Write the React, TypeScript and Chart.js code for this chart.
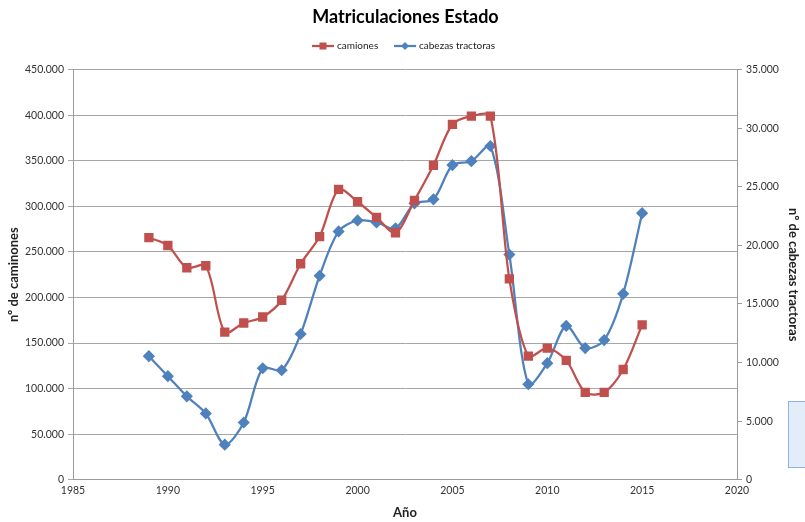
import React, { useEffect, useRef } from "react";
import { Chart, registerables } from "chart.js";

Chart.register(...registerables);

const years = [1989, 1990, 1991, 1992, 1993, 1994, 1995, 1996, 1997, 1998, 1999, 2000, 2001, 2002, 2003, 2004, 2005, 2006, 2007, 2008, 2009, 2010, 2011, 2012, 2013, 2014, 2015];
const camiones = [265700, 257000, 232600, 234800, 162000, 172000, 178600, 197000, 237000, 266800, 318600, 305000, 287800, 271000, 306500, 345000, 390000, 399000, 399000, 220500, 135600, 144400, 131000, 96000, 96000, 121000, 170000];
const cabezas = [10550, 8840, 7120, 5660, 3000, 4890, 9520, 9350, 12440, 17410, 21190, 22130, 21960, 21450, 23590, 23930, 26850, 27190, 28480, 19220, 8150, 9950, 13130, 11240, 11920, 15870, 22750];

const FONT = "Lato, 'Open Sans', sans-serif";
const RED = "#C0504D";
const BLUE = "#4F81BD";
const fmt = (v: number) => {
  const s = Math.round(v).toString();
  return s.replace(/\B(?=(\d{3})+(?!\d))/g, ".");
};

const legendPlugin = {
  id: "excelLegend",
  afterDraw(chart: any) {
    const ctx = chart.ctx;
    const y = 46;
    const items = [
      { x: 312, text: "camiones", color: RED, style: "rect" },
      { x: 394, text: "cabezas tractoras", color: BLUE, style: "rectRot" },
    ];
    ctx.save();
    ctx.font = `10px ${FONT}`;
    ctx.textBaseline = "middle";
    for (const it of items) {
      ctx.strokeStyle = it.color;
      ctx.lineWidth = 2.25;
      ctx.beginPath();
      ctx.moveTo(it.x, y);
      ctx.lineTo(it.x + 22, y);
      ctx.stroke();
      ctx.fillStyle = it.color;
      const cx = it.x + 11;
      if (it.style === "rect") {
        ctx.fillRect(cx - 3.5, y - 3.5, 7, 7);
      } else {
        ctx.beginPath();
        ctx.moveTo(cx, y - 4);
        ctx.lineTo(cx + 4, y);
        ctx.lineTo(cx, y + 4);
        ctx.lineTo(cx - 4, y);
        ctx.closePath();
        ctx.fill();
      }
      ctx.fillStyle = "#222";
      ctx.textAlign = "left";
      ctx.fillText(it.text, it.x + 25, y);
    }
    ctx.restore();
  },
};

export default function App() {
  const ref = useRef<HTMLCanvasElement | null>(null);
  useEffect(() => {
    if (!ref.current) return;
    const chart = new Chart(ref.current, {
      type: "line",
      data: {
        datasets: [
          {
            label: "camiones",
            data: years.map((y, i) => ({ x: y, y: camiones[i] })),
            borderColor: RED,
            backgroundColor: RED,
            pointStyle: "rect",
            pointRadius: 5,
            borderWidth: 2.25,
            tension: 0.3,
            yAxisID: "y",
          },
          {
            label: "cabezas tractoras",
            data: years.map((y, i) => ({ x: y, y: cabezas[i] })),
            borderColor: BLUE,
            backgroundColor: BLUE,
            pointStyle: "rectRot",
            pointRadius: 4.5,
            borderWidth: 2.25,
            tension: 0.3,
            yAxisID: "y1",
          },
        ],
      },
      plugins: [legendPlugin],
      options: {
        animation: false,
        responsive: false,
        maintainAspectRatio: false,
        layout: { padding: { left: 6, right: 0, top: 0, bottom: 0 } },
        plugins: {
          tooltip: { enabled: false },
          legend: { display: false },
          title: {
            display: true,
            text: "Matriculaciones Estado",
            color: "#000",
            font: { family: FONT, size: 18, weight: "bold" },
            padding: { top: 6, bottom: 42 },
          },
        },
        scales: {
          x: {
            type: "linear",
            min: 1985,
            max: 2020,
            ticks: {
              stepSize: 5,
              color: "#333",
              font: { family: FONT, size: 10.5 },
              padding: 5,
              callback: (v: any) => String(v),
              maxRotation: 0,
            },
            grid: { display: true, drawOnChartArea: false, drawTicks: false, color: "#9a9a9a" },
            border: { display: true, color: "#9a9a9a" },
            title: {
              display: true,
              text: "Año",
              color: "#222",
              font: { family: FONT, size: 13, weight: "bold" },
              padding: { top: 3, bottom: 1 },
            },
          },
          y: {
            position: "left",
            min: 0,
            max: 450000,
            ticks: {
              stepSize: 50000,
              color: "#333",
              font: { family: FONT, size: 10.5 },
              padding: 4,
              callback: (v: any) => fmt(v),
            },
            grid: { color: "#A6A6A6", lineWidth: 1, tickLength: 5, drawTicks: true },
            border: { display: true, color: "#9a9a9a" },
            title: {
              display: true,
              text: "nº de caminones",
              color: "#222",
              font: { family: FONT, size: 13, weight: "bold" },
              padding: { top: 0, bottom: 4 },
            },
            afterFit: (s: any) => {
              s.width = 67;
            },
          },
          y1: {
            position: "right",
            min: 0,
            max: 35000,
            ticks: {
              stepSize: 5000,
              color: "#333",
              font: { family: FONT, size: 10.5 },
              padding: 4,
              callback: (v: any) => fmt(v),
            },
            grid: { drawOnChartArea: false, color: "#9a9a9a", tickLength: 5 },
            border: { display: true, color: "#9a9a9a" },
            title: {
              display: true,
              text: "nº de cabezas tractoras",
              color: "#222",
              font: { family: FONT, size: 13, weight: "bold" },
              padding: { top: 4, bottom: 0 },
            },
            afterFit: (s: any) => {
              s.width = 68;
            },
          },
        },
      },
    });
    return () => chart.destroy();
  }, []);
  return (
    <div style={{ position: "fixed", left: 0, top: 0, width: 805, height: 522, background: "#fff" }}>
      <canvas ref={ref} width={805} height={522} style={{ width: 805, height: 522, display: "block" }} />
      <div
        style={{
          position: "absolute",
          left: 788,
          top: 401,
          width: 20,
          height: 67,
          background: "#E3EDFA",
          border: "1px solid #8FB2E0",
          boxSizing: "border-box",
        }}
      />
    </div>
  );
}
